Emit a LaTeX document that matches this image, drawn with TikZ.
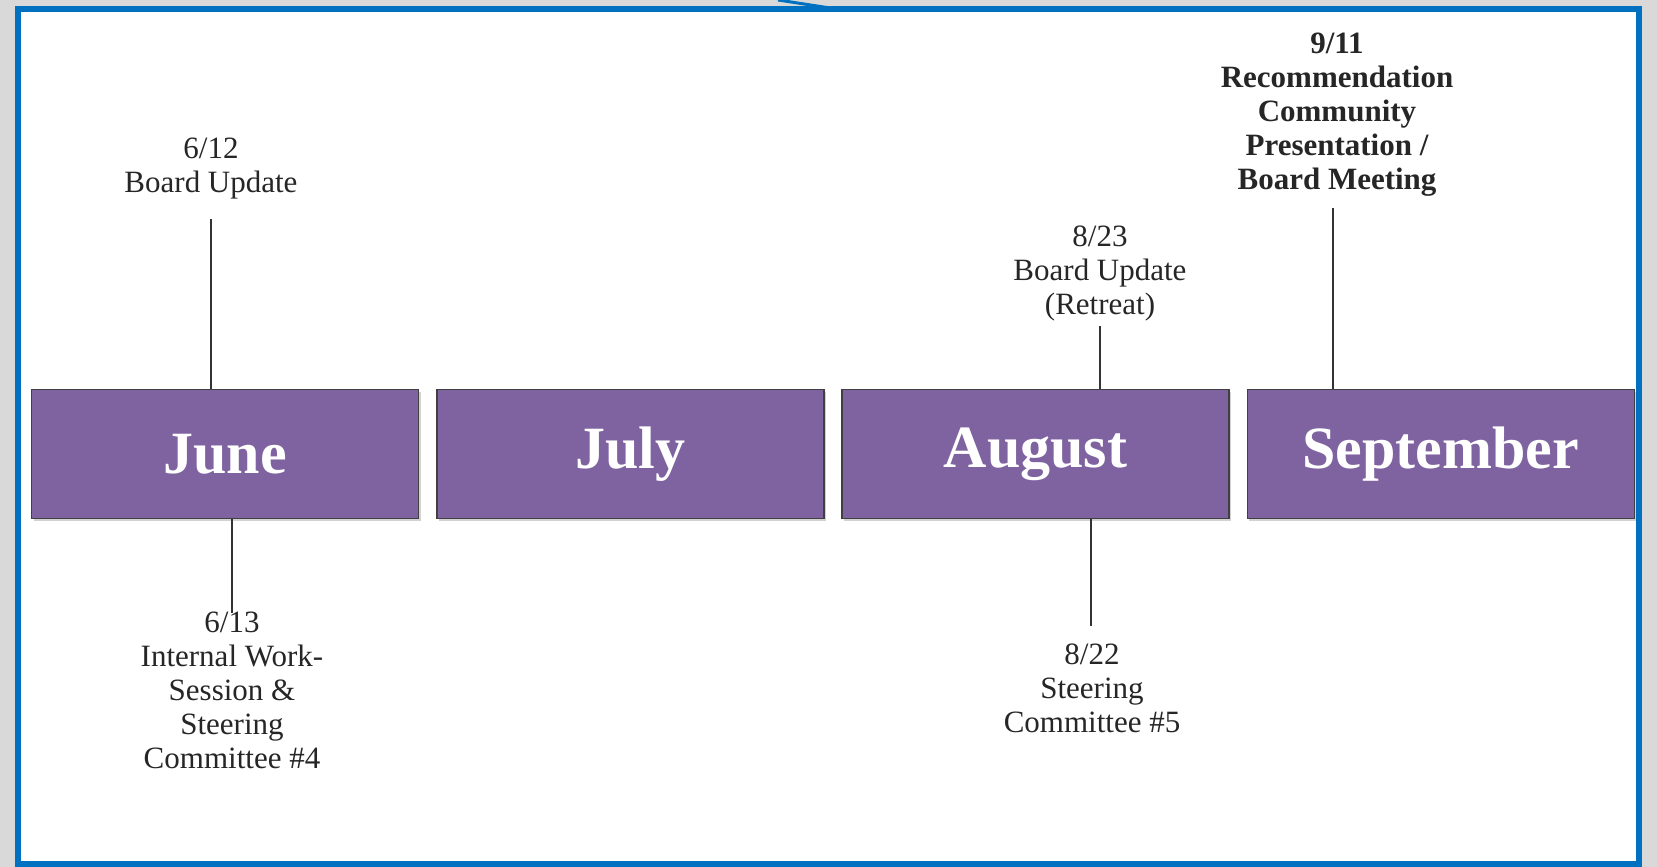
\documentclass[tikz,border=0pt]{standalone}
\usepackage{fontspec}
\setmainfont{Liberation Serif}
\usetikzlibrary{positioning,shadows}
\definecolor{monthpurple}{HTML}{7F63A1}
\definecolor{frameblue}{HTML}{0070C0}
\definecolor{labelgray}{HTML}{262626}
\definecolor{outergray}{HTML}{D9D9D9}
\tikzset{
  month/.style={draw=black!75, line width=1.5pt, fill=monthpurple, text=white,
    minimum width=387pt, minimum height=129pt, inner sep=0pt,
    font=\fontsize{60}{64}\selectfont\bfseries,
    drop shadow={shadow xshift=2pt, shadow yshift=-2pt, opacity=.35}},
  event/.style={anchor=north, align=center, inner sep=0pt, text=labelgray,
    font=\fontsize{31}{34}\selectfont},
  tick/.style={draw=black!80, line width=1.5pt}
}
\begin{document}
\begin{tikzpicture}[x=1pt,y=-1pt]
  \useasboundingbox (0,0) rectangle (1657,867);
  \fill[outergray] (0,0) rectangle (1657,867);
  \draw[frameblue, line width=6pt, fill=white] (18,9) rectangle (1639,864);
  \draw[frameblue, line width=3pt] (778,0) -- (830,8);

  % months
  \node[month] (june) at (225,454) {June};
  \node[month, right=16.8pt of june] (july) {July};
  \node[month, right=16.8pt of july] (august) {August};
  \node[month, right=16.8pt of august] (september) {September};

  % events
  \node[event] (e0612) at (211,138) {6/12\\Board Update};
  \node[event] (e0613) at (232,612) {6/13\\Internal Work-\\Session \&\\Steering\\Committee \#4};
  \node[event] (e0823) at (1100,226) {8/23\\Board Update\\(Retreat)};
  \node[event] (e0822) at (1092,644) {8/22\\Steering\\Committee \#5};
  \node[event, font=\fontsize{31}{34}\selectfont\bfseries] (e0911) at (1337,33)
    {9/11\\Recommendation\\Community\\Presentation /\\Board Meeting};

  % ticks
  \coordinate (t0612) at (211,219);
  \draw[tick] (t0612) -- (t0612 |- june.north);
  \coordinate (t0613) at (232,613);
  \draw[tick] (june.south -| t0613) -- (t0613);
  \coordinate (t0823) at (1100,326);
  \draw[tick] (t0823) -- (t0823 |- august.north);
  \coordinate (t0822) at (1091,626);
  \draw[tick] (august.south -| t0822) -- (t0822);
  \coordinate (t0911) at (1333,208);
  \draw[tick] (t0911) -- (t0911 |- september.north);
\end{tikzpicture}
\end{document}
